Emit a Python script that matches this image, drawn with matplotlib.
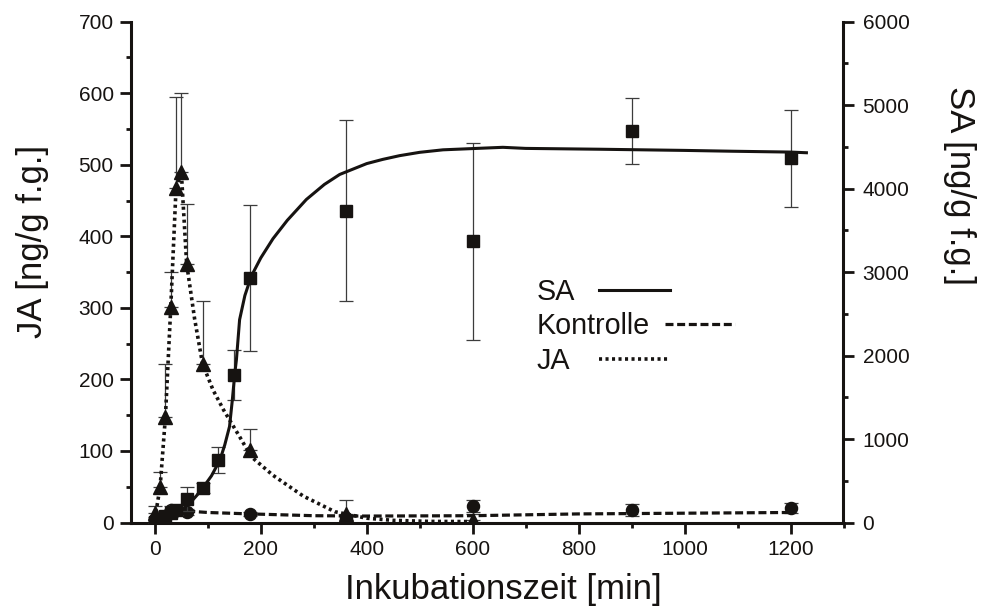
import numpy as np
import matplotlib
matplotlib.use("Agg")
import matplotlib.pyplot as plt
from matplotlib.ticker import MultipleLocator
from matplotlib.lines import Line2D
from matplotlib.legend import Legend

plt.rcParams['font.family'] = ['Liberation Sans', 'DejaVu Sans']

# ---------------- data ----------------
# JA (left axis, triangles), upper error only
ja_t = [0, 10, 20, 30, 40, 50, 60, 90, 180, 360, 600]
ja_v = [12.8, 50, 148, 301, 467, 490, 362, 222, 102, 12, 4]
ja_err = [10, 21, 73, 49, 128, 111, 83, 87, 29, 20, 8]
# JA fitted curve (dotted)
ja_fit_t = [0, 10, 20, 30, 40, 50, 60, 75, 90, 110, 130, 160, 182, 223, 280, 340, 400, 450, 520, 600]
ja_fit_v = [5, 50, 148, 300, 467, 490, 362, 285, 222, 185, 157, 120, 92, 66, 37, 15, 6, 3, 1.5, 1.3]

# Kontrolle (left axis, circles)
ko_t = [0, 30, 60, 180, 360, 600, 900, 1200]
ko_v = [5, 18, 15, 12, 6, 23, 17, 20]
ko_err = [3, 5, 4, 3, 5, 9, 8.5, 7]
# Kontrolle fitted curve (dashed)
ko_fit_t = [0, 15, 30, 60, 100, 180, 300, 400, 600, 800, 1000, 1200]
ko_fit_v = [5, 14, 17, 16, 14, 12, 9.5, 9, 9.5, 12, 13, 14]

# SA (right axis, squares)
sa_t = [0, 10, 20, 30, 40, 60, 90, 120, 150, 180, 360, 600, 900, 1200]
sa_v = [10, 40, 80, 110, 150, 280, 418, 750, 1770, 2930, 3738, 3370, 4690, 4362]
sa_err = [20, 30, 40, 50, 60, 140, 60, 156, 300, 870, 1084, 1180, 400, 584]
# SA fitted curve (solid)
sa_fit_t = [0, 20, 35, 50, 66, 80, 91, 107, 123, 132, 141, 146, 151, 154, 160, 170, 182, 200,
            223, 250, 286, 320, 349, 400, 430, 462, 500, 544, 600, 657, 700, 840, 1000, 1091, 1200, 1230]
sa_fit_v = [0, 40, 90, 150, 230, 330, 418, 560, 750, 930, 1150, 1450, 1790, 1950, 2430, 2720, 2950, 3170,
            3400, 3620, 3870, 4050, 4170, 4300, 4350, 4395, 4435, 4465, 4480, 4495, 4482, 4472, 4458, 4448, 4438, 4430]

x_ticks = [0, 200, 400, 600, 800, 1000, 1200]
ja_ticks = [0, 100, 200, 300, 400, 500, 600, 700]
sa_ticks = [0, 1000, 2000, 3000, 4000, 5000, 6000]

legend_labels = ['SA', 'Kontrolle', 'JA']

# ---------------- styling ----------------
K = '#161311'
EC = '#3c3c3c'
LW = 2.2
DOT = dict(lw=2.6, dashes=(0.85, 0.95))
DASH = dict(lw=2.3, dashes=(2.5, 1.15))

fig = plt.figure(figsize=(9.82, 6.10), dpi=100)
ax = fig.add_axes([131/982, (610-522.5)/610, 712.5/982, 500.8/610])
ax2 = ax.twinx()

# JA
ax.errorbar(ja_t, ja_v, yerr=[np.zeros(len(ja_err)), ja_err], fmt='none',
            ecolor=EC, elinewidth=0.9, capsize=4.7, capthick=0.9, zorder=2)
ax.plot(ja_fit_t, ja_fit_v, color=K, zorder=3, **DOT)
ax.plot(ja_t, ja_v, '^', ms=9.5, color=K, zorder=4)

# Kontrolle
ax.errorbar(ko_t, ko_v, yerr=ko_err, fmt='none',
            ecolor=EC, elinewidth=0.9, capsize=4.7, capthick=0.9, zorder=2)
ax.plot(ko_fit_t, ko_fit_v, color=K, zorder=3, **DASH)
ax.plot(ko_t, ko_v, 'o', ms=8.7, color=K, zorder=4)

# SA
ax2.errorbar(sa_t, sa_v, yerr=sa_err, fmt='none',
             ecolor=EC, elinewidth=0.9, capsize=4.7, capthick=0.9, zorder=2)
ax2.plot(sa_fit_t, sa_fit_v, color=K, lw=LW, zorder=3)
ax2.plot(sa_t, sa_v, 's', ms=8.2, color=K, zorder=4)

# axes limits / ticks
ax.set_xlim(-45, 1300)
ax.set_ylim(0, 700)
ax2.set_ylim(0, 6000)
ax.set_xticks(x_ticks)
ax.set_yticks(ja_ticks)
ax2.set_yticks(sa_ticks)
ax.xaxis.set_minor_locator(MultipleLocator(100))
ax.yaxis.set_minor_locator(MultipleLocator(50))
ax2.yaxis.set_minor_locator(MultipleLocator(500))

for s in ['top', 'right']:
    ax.spines[s].set_visible(False)
for s in ['top', 'left', 'bottom']:
    ax2.spines[s].set_visible(False)
for s in ['left', 'bottom']:
    ax.spines[s].set_linewidth(2.2)
    ax.spines[s].set_color(K)
ax2.spines['right'].set_linewidth(2.2)
ax2.spines['right'].set_color(K)

ax.tick_params(axis='both', which='major', direction='out', length=7.7, width=2.0,
               labelsize=15, pad=4.8, color=K, labelcolor=K, top=False, right=False)
ax.tick_params(axis='both', which='minor', direction='out', length=3.8, width=2.0,
               color=K, top=False, right=False)
ax2.tick_params(axis='y', which='major', direction='out', length=7.7, width=2.0,
                labelsize=15, pad=6, color=K, labelcolor=K)
ax2.tick_params(axis='y', which='minor', direction='out', length=3.8, width=2.0, color=K)

# axis labels
ax.set_xlabel('Inkubationszeit [min]', fontsize=25, color=K)
ax.xaxis.set_label_coords(0.522, -0.10)
ax.set_ylabel('JA [ng/g f.g.]', fontsize=25, color=K)
ax.yaxis.set_label_coords(-0.115, 0.561)
ax2.set_ylabel('SA [ng/g f.g.]', fontsize=25, color=K, rotation=270, va='bottom')
ax2.yaxis.set_label_coords(1.139, 0.672)

# legends (text first, line after)
styles = [dict(color=K, lw=LW),
          dict(color=K, **DASH),
          dict(color=K, **DOT)]
ypos = [0.4603, 0.3924, 0.3225]
pads = [0.84, 0.52, 1.0]
for lab, st, yy, pd in zip(legend_labels, styles, ypos, pads):
    h = Line2D([], [], **st)
    leg = Legend(ax2, [h], [lab], markerfirst=False, frameon=False, fontsize=20.7,
                 handlelength=2.45, handletextpad=pd, borderpad=0, borderaxespad=0,
                 loc='center left', bbox_to_anchor=(0.5694, yy),
                 bbox_transform=ax.transAxes)
    for t in leg.get_texts():
        t.set_color(K)
    ax2.add_artist(leg)

fig.savefig('out.png', dpi=100)
